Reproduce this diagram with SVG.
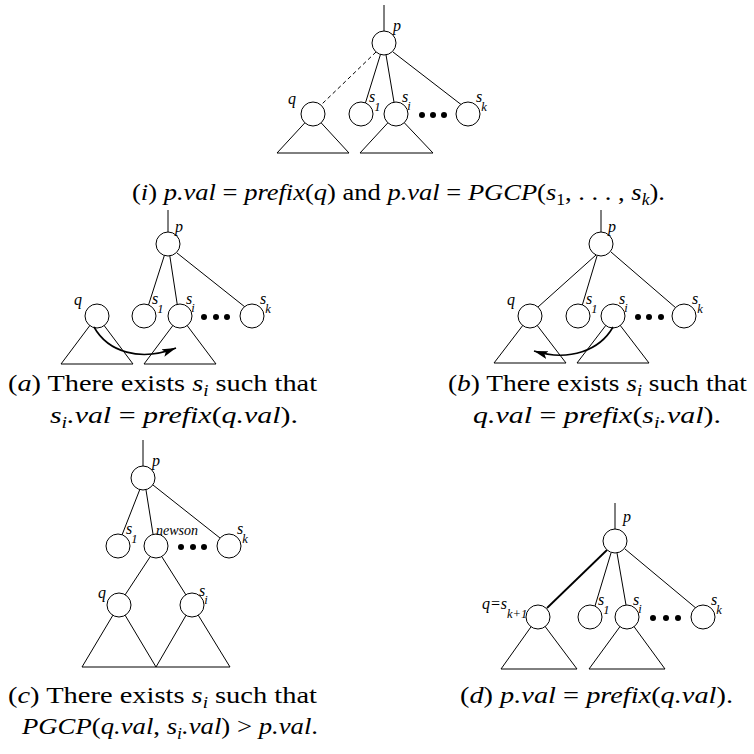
<svg xmlns="http://www.w3.org/2000/svg" width="754" height="754" viewBox="0 0 754 754">
<style>
.ln{stroke:#000;stroke-width:1;fill:none}
.dash{stroke:#000;stroke-width:1;fill:none;stroke-dasharray:4 3}
.thick{stroke:#000;stroke-width:1.8;fill:none}
.arr{stroke:#000;stroke-width:1.6;fill:none}
.nd{fill:#fff;stroke:#000;stroke-width:1}
.tri{fill:none;stroke:#000;stroke-width:1}
.dot{fill:#000}
.lbl{font-family:"Liberation Serif",serif;font-style:italic;font-size:16px;fill:#000}
.ls{font-size:12.5px}
.small{font-family:"Liberation Serif",serif;font-style:italic;font-size:14px;fill:#000}
.cap{font-family:"Liberation Serif",serif;font-size:24px;fill:#000}
.m{font-style:italic}
.sb{font-size:16px}
</style>
<defs>
<marker id="ah" markerUnits="userSpaceOnUse" markerWidth="16" markerHeight="10" refX="14" refY="4" orient="auto">
<path d="M0,0 L14,4 L0,8 L3,4 Z" fill="#000"/>
</marker>
</defs>

<!-- (i) -->
<g id="conn-i">
<line class="ln" x1="384" y1="5" x2="384" y2="31"/>
<line class="dash" x1="376" y1="52" x2="322" y2="104"/>
<line class="ln" x1="384" y1="43" x2="362" y2="114"/>
<line class="ln" x1="384" y1="43" x2="396" y2="114"/>
<line class="ln" x1="393" y1="52" x2="463" y2="106"/>
</g>
<g id="i-q"><path class="tri" d="M313,114 L277,153 L349,153 Z"/><circle class="nd" cx="313" cy="114" r="12"/><text class="lbl" x="288" y="104">q</text></g>
<g id="i-si"><path class="tri" d="M396,114 L360,153 L433,153 Z"/><circle class="nd" cx="396" cy="114" r="12"/><text class="lbl" x="402" y="102">s<tspan class="ls" dx="-1" dy="8">i</tspan></text></g>
<g id="i-p"><circle class="nd" cx="384" cy="43" r="12"/><text class="lbl" x="393" y="31">p</text></g>
<g id="i-s1"><circle class="nd" cx="361" cy="114" r="12"/><text class="lbl" x="369" y="102">s<tspan class="ls" dx="-1" dy="9">1</tspan></text></g>
<g id="i-sk"><circle class="nd" cx="468" cy="114" r="12"/><text class="lbl" x="476" y="102">s<tspan class="ls" dx="-1" dy="9">k</tspan></text></g>
<g id="i-dots"><circle class="dot" cx="422" cy="115" r="3"/><circle class="dot" cx="433" cy="115" r="3"/><circle class="dot" cx="444" cy="115" r="3"/></g>
<text class="cap" x="132" y="200" textLength="533" lengthAdjust="spacingAndGlyphs">(<tspan class="m">i</tspan>) <tspan class="m">p.val</tspan> = <tspan class="m">prefix</tspan>(<tspan class="m">q</tspan>) and <tspan class="m">p.val</tspan> = <tspan class="m">PGCP</tspan>(<tspan class="m">s</tspan><tspan class="sb" dy="5">1</tspan><tspan dy="-5">, . . . , </tspan><tspan class="m">s</tspan><tspan class="m sb" dy="5">k</tspan><tspan dy="-5">).</tspan></text>

<!-- (a) -->
<g id="conn-a">
<line class="ln" x1="168" y1="210" x2="168" y2="232"/>
<line class="ln" x1="168" y1="244" x2="145" y2="316"/>
<line class="ln" x1="168" y1="244" x2="179" y2="316"/>
<line class="ln" x1="177" y1="253" x2="245" y2="307"/>
</g>
<g id="a-q"><path class="tri" d="M97,316 L61,364 L133,364 Z"/><circle class="nd" cx="97" cy="316" r="12"/><text class="lbl" x="74" y="305">q</text></g>
<g id="a-si"><path class="tri" d="M180,316 L144,364 L216,364 Z"/><circle class="nd" cx="180" cy="316" r="12"/><text class="lbl" x="186" y="304">s<tspan class="ls" dx="-1" dy="8">i</tspan></text></g>
<g id="a-p"><circle class="nd" cx="168" cy="244" r="12"/><text class="lbl" x="175" y="232">p</text></g>
<g id="a-s1"><circle class="nd" cx="144" cy="316" r="12"/><text class="lbl" x="152" y="304">s<tspan class="ls" dx="-1" dy="9">1</tspan></text></g>
<g id="a-sk"><circle class="nd" cx="252" cy="316" r="12"/><text class="lbl" x="260" y="304">s<tspan class="ls" dx="-1" dy="9">k</tspan></text></g>
<g id="a-dots"><circle class="dot" cx="204" cy="317" r="3"/><circle class="dot" cx="216" cy="317" r="3"/><circle class="dot" cx="227" cy="317" r="3"/></g>
<g id="a-arrow"><path class="arr" d="M94,327 C108,352 140,362 176,348" marker-end="url(#ah)"/></g>
<text class="cap" x="8" y="391" textLength="309" lengthAdjust="spacingAndGlyphs">(<tspan class="m">a</tspan>) There exists <tspan class="m">s</tspan><tspan class="m sb" dy="5">i</tspan><tspan dy="-5"> such that</tspan></text>
<text class="cap" x="50" y="423" textLength="248" lengthAdjust="spacingAndGlyphs"><tspan class="m">s</tspan><tspan class="m sb" dy="5">i</tspan><tspan class="m" dy="-5">.val</tspan> = <tspan class="m">prefix</tspan>(<tspan class="m">q.val</tspan>).</text>

<!-- (b) -->
<g id="conn-b">
<line class="ln" x1="601" y1="210" x2="601" y2="232"/>
<line class="ln" x1="596" y1="255" x2="538" y2="307"/>
<line class="ln" x1="597" y1="256" x2="582" y2="306"/>
<line class="ln" x1="611" y1="252" x2="676" y2="308"/>
</g>
<g id="b-q"><path class="tri" d="M530,316 L494,363 L566,363 Z"/><circle class="nd" cx="530" cy="316" r="12"/><text class="lbl" x="507" y="305">q</text></g>
<g id="b-si"><path class="tri" d="M613,316 L577,363 L649,363 Z"/><circle class="nd" cx="613" cy="316" r="12"/><text class="lbl" x="619" y="304">s<tspan class="ls" dx="-1" dy="8">i</tspan></text></g>
<g id="b-p"><circle class="nd" cx="601" cy="244" r="12"/><text class="lbl" x="608" y="232">p</text></g>
<g id="b-s1"><circle class="nd" cx="578" cy="316" r="12"/><text class="lbl" x="586" y="304">s<tspan class="ls" dx="-1" dy="9">1</tspan></text></g>
<g id="b-sk"><circle class="nd" cx="684" cy="316" r="12"/><text class="lbl" x="692" y="304">s<tspan class="ls" dx="-1" dy="9">k</tspan></text></g>
<g id="b-dots"><circle class="dot" cx="638" cy="317" r="3"/><circle class="dot" cx="649" cy="317" r="3"/><circle class="dot" cx="661" cy="317" r="3"/></g>
<g id="b-arrow"><path class="arr" d="M613,327 C600,350 570,362 534,351" marker-end="url(#ah)"/></g>
<text class="cap" x="448" y="391" textLength="299" lengthAdjust="spacingAndGlyphs">(<tspan class="m">b</tspan>) There exists <tspan class="m">s</tspan><tspan class="m sb" dy="5">i</tspan><tspan dy="-5"> such that</tspan></text>
<text class="cap" x="473" y="423" textLength="248" lengthAdjust="spacingAndGlyphs"><tspan class="m">q.val</tspan> = <tspan class="m">prefix</tspan>(<tspan class="m">s</tspan><tspan class="m sb" dy="5">i</tspan><tspan class="m" dy="-5">.val</tspan>).</text>

<!-- (c) -->
<g id="conn-c">
<line class="ln" x1="143" y1="440" x2="143" y2="466"/>
<line class="ln" x1="140" y1="489" x2="122" y2="535"/>
<line class="ln" x1="146" y1="490" x2="153" y2="534"/>
<line class="ln" x1="153" y1="485" x2="220" y2="538"/>
<line class="ln" x1="150" y1="557" x2="125" y2="595"/>
<line class="ln" x1="162" y1="557" x2="186" y2="595"/>
</g>
<g id="c-q"><path class="tri" d="M119,605 L82,667 L156,667 Z"/><circle class="nd" cx="119" cy="605" r="12"/><text class="lbl" x="98" y="598">q</text></g>
<g id="c-si"><path class="tri" d="M192,605 L156,667 L230,667 Z"/><circle class="nd" cx="192" cy="605" r="12"/><text class="lbl" x="199" y="596">s<tspan class="ls" dx="-1" dy="8">i</tspan></text></g>
<g id="c-p"><circle class="nd" cx="143" cy="478" r="12"/><text class="lbl" x="152" y="466">p</text></g>
<g id="c-s1"><circle class="nd" cx="118" cy="546" r="12"/><text class="lbl" x="126" y="534">s<tspan class="ls" dx="-1" dy="9">1</tspan></text></g>
<g id="c-newson"><circle class="nd" cx="156" cy="546" r="12"/><text class="small" x="156" y="535">newson</text></g>
<g id="c-sk"><circle class="nd" cx="229" cy="546" r="12"/><text class="lbl" x="237" y="534">s<tspan class="ls" dx="-1" dy="9">k</tspan></text></g>
<g id="c-dots"><circle class="dot" cx="181" cy="547" r="3"/><circle class="dot" cx="193" cy="547" r="3"/><circle class="dot" cx="204" cy="547" r="3"/></g>
<text class="cap" x="8" y="703" textLength="309" lengthAdjust="spacingAndGlyphs">(<tspan class="m">c</tspan>) There exists <tspan class="m">s</tspan><tspan class="m sb" dy="5">i</tspan><tspan dy="-5"> such that</tspan></text>
<text class="cap" x="22" y="734" textLength="296" lengthAdjust="spacingAndGlyphs"><tspan class="m">PGCP</tspan>(<tspan class="m">q.val</tspan>, <tspan class="m">s</tspan><tspan class="m sb" dy="5">i</tspan><tspan class="m" dy="-5">.val</tspan>) &gt; <tspan class="m">p.val</tspan>.</text>

<!-- (d) -->
<g id="conn-d">
<line class="ln" x1="615" y1="503" x2="615" y2="529"/>
<line class="thick" x1="607" y1="550" x2="547" y2="608"/>
<line class="ln" x1="611" y1="553" x2="595" y2="606"/>
<line class="ln" x1="617" y1="553" x2="626" y2="605"/>
<line class="ln" x1="625" y1="549" x2="697" y2="609"/>
</g>
<g id="d-q"><path class="tri" d="M538,617 L501,669 L577,669 Z"/><circle class="nd" cx="538" cy="617" r="12"/><text class="lbl" x="482" y="609">q=s<tspan class="ls" dy="9">k+1</tspan></text></g>
<g id="d-si"><path class="tri" d="M627,617 L589,669 L665,669 Z"/><circle class="nd" cx="627" cy="617" r="12"/><text class="lbl" x="633" y="605">s<tspan class="ls" dx="-1" dy="8">i</tspan></text></g>
<g id="d-p"><circle class="nd" cx="615" cy="541" r="12"/><text class="lbl" x="623" y="522">p</text></g>
<g id="d-s1"><circle class="nd" cx="590" cy="617" r="12"/><text class="lbl" x="598" y="605">s<tspan class="ls" dx="-1" dy="9">1</tspan></text></g>
<g id="d-sk"><circle class="nd" cx="703" cy="617" r="12"/><text class="lbl" x="711" y="605">s<tspan class="ls" dx="-1" dy="9">k</tspan></text></g>
<g id="d-dots"><circle class="dot" cx="653" cy="618" r="3"/><circle class="dot" cx="666" cy="618" r="3"/><circle class="dot" cx="678" cy="618" r="3"/></g>
<text class="cap" x="460" y="703" textLength="273" lengthAdjust="spacingAndGlyphs">(<tspan class="m">d</tspan>) <tspan class="m">p.val</tspan> = <tspan class="m">prefix</tspan>(<tspan class="m">q.val</tspan>).</text>
</svg>
